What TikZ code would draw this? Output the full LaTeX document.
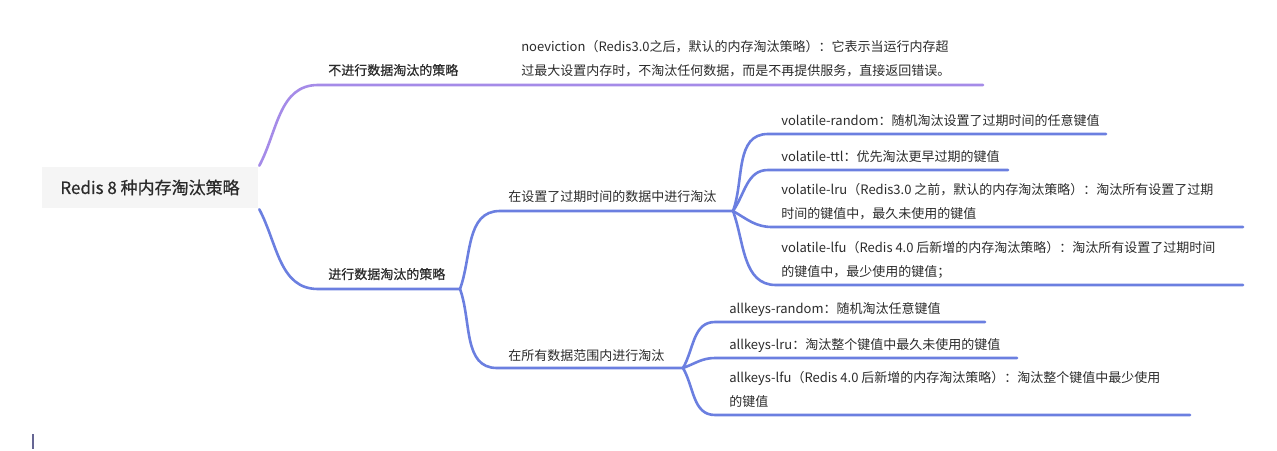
\documentclass[tikz,border=0pt]{standalone}
\usepackage{fontspec}
\setmainfont{Noto Sans CJK SC}
\newfontfamily\medfont[FakeBold=0.6]{Noto Sans CJK SC}
\usepackage{tikz}
\usetikzlibrary{positioning}

\definecolor{nopurple}{HTML}{A58BE8}
\definecolor{evblue}{HTML}{6B7FE0}
\definecolor{txtgray}{HTML}{2B2B2B}
\definecolor{rootgray}{HTML}{F5F5F5}

\begin{document}
\begin{tikzpicture}[x=1pt,y=-1pt,line width=2.6pt,line cap=round,
                    text=txtgray]
  \tikzstyle{root}=[fill=rootgray,minimum width=216pt,minimum height=41pt,
                    inner sep=0pt,font=\fontsize{17}{20}\medfont]
  \tikzstyle{topic}=[anchor=base west,inner sep=0pt,
                     font=\fontsize{13}{16}\medfont]
  \tikzstyle{subtopic}=[anchor=base west,inner sep=0pt,
                        font=\fontsize{13}{16}\selectfont]
  \tikzstyle{leaf}=[anchor=south west,inner sep=0pt,text depth=0pt,align=left,
                    font=\fontsize{13}{24}\selectfont]
  \tikzstyle{purpleline}=[draw=nopurple]
  \tikzstyle{blueline}=[draw=evblue]

  \useasboundingbox (0,0) rectangle (1277,450);

  \node[root] (root) at (150,187.5) {Redis 8 种内存淘汰策略};

  % topics
  \node[topic] (noev)  at (327,75)  {不进行数据淘汰的策略};
  \node[topic] (evict) at (327,279) {进行数据淘汰的策略};
  \node[subtopic] (vol) at (507,201) {在设置了过期时间的数据中进行淘汰};
  \node[subtopic] (all) at (507,360) {在所有数据范围内进行淘汰};

  % leaves
  \node[leaf] (noevic) at (520,76.5) {noeviction（Redis3.0之后，默认的内存淘汰策略）：它表示当运行内存超\\过最大设置内存时，不淘汰任何数据，而是不再提供服务，直接返回错误。};
  \node[leaf] (vr)   at (780,126.5) {volatile-random：随机淘汰设置了过期时间的任意键值};
  \node[leaf] (vt)   at (780,162.5) {volatile-ttl：优先淘汰更早过期的键值};
  \node[leaf] (vlru) at (780,219.5) {volatile-lru（Redis3.0 之前，默认的内存淘汰策略）：淘汰所有设置了过期\\时间的键值中，最久未使用的键值};
  \node[leaf] (vlfu) at (780,277.5) {volatile-lfu（Redis 4.0 后新增的内存淘汰策略）：淘汰所有设置了过期时间\\的键值中，最少使用的键值；};
  \node[leaf] (ar)   at (728,314.5) {allkeys-random：随机淘汰任意键值};
  \node[leaf] (al)   at (728,350.5) {allkeys-lru：淘汰整个键值中最久未使用的键值};
  \node[leaf] (alfu) at (728,407.5) {allkeys-lfu（Redis 4.0 后新增的内存淘汰策略）：淘汰整个键值中最少使用\\的键值};

  % junctions and underline ends
  \coordinate (noev0) at (318,85);   \coordinate (noev1) at (983,85);
  \coordinate (evict0) at (318,289); \coordinate (j1) at (460,289);
  \coordinate (vol0) at (500,211);   \coordinate (j2) at (733,211);
  \coordinate (all0) at (497,368);   \coordinate (j3) at (683,368);
  \coordinate (vr0) at (768,134);    \coordinate (vr1) at (1106,134);
  \coordinate (vt0) at (768,170);    \coordinate (vt1) at (1008,170);
  \coordinate (vlru0) at (772,227);  \coordinate (vlru1) at (1243,227);
  \coordinate (vlfu0) at (776,285);  \coordinate (vlfu1) at (1243,285);
  \coordinate (ar0) at (715,322);    \coordinate (ar1) at (985,322);
  \coordinate (al0) at (715,358);    \coordinate (al1) at (1017,358);
  \coordinate (alfu0) at (715,415);  \coordinate (alfu1) at (1190,415);

  \draw[purpleline] (root.north east) to[out=62,in=180] (noev0) -- (noev1);
  \draw[blueline] (root.south east) to[out=-62,in=180] (evict0) -- (j1);
  \draw[blueline] (j1) to[out=70,in=180] (vol0) -- (j2);
  \draw[blueline] (j1) to[out=-70,in=180] (all0) -- (j3);
  \foreach \n/\a in {vr/70,vt/55,vlru/-30,vlfu/-70}
    \draw[blueline] (j2) to[out=\a,in=180] (\n0) -- (\n1);
  \foreach \n/\a in {ar/60,al/20,alfu/-60}
    \draw[blueline] (j3) to[out=\a,in=180] (\n0) -- (\n1);

  % text cursor
  \draw[line width=1.2pt,line cap=butt,draw=black!70!blue!60] (33,434) -- (33,449);
\end{tikzpicture}
\end{document}
